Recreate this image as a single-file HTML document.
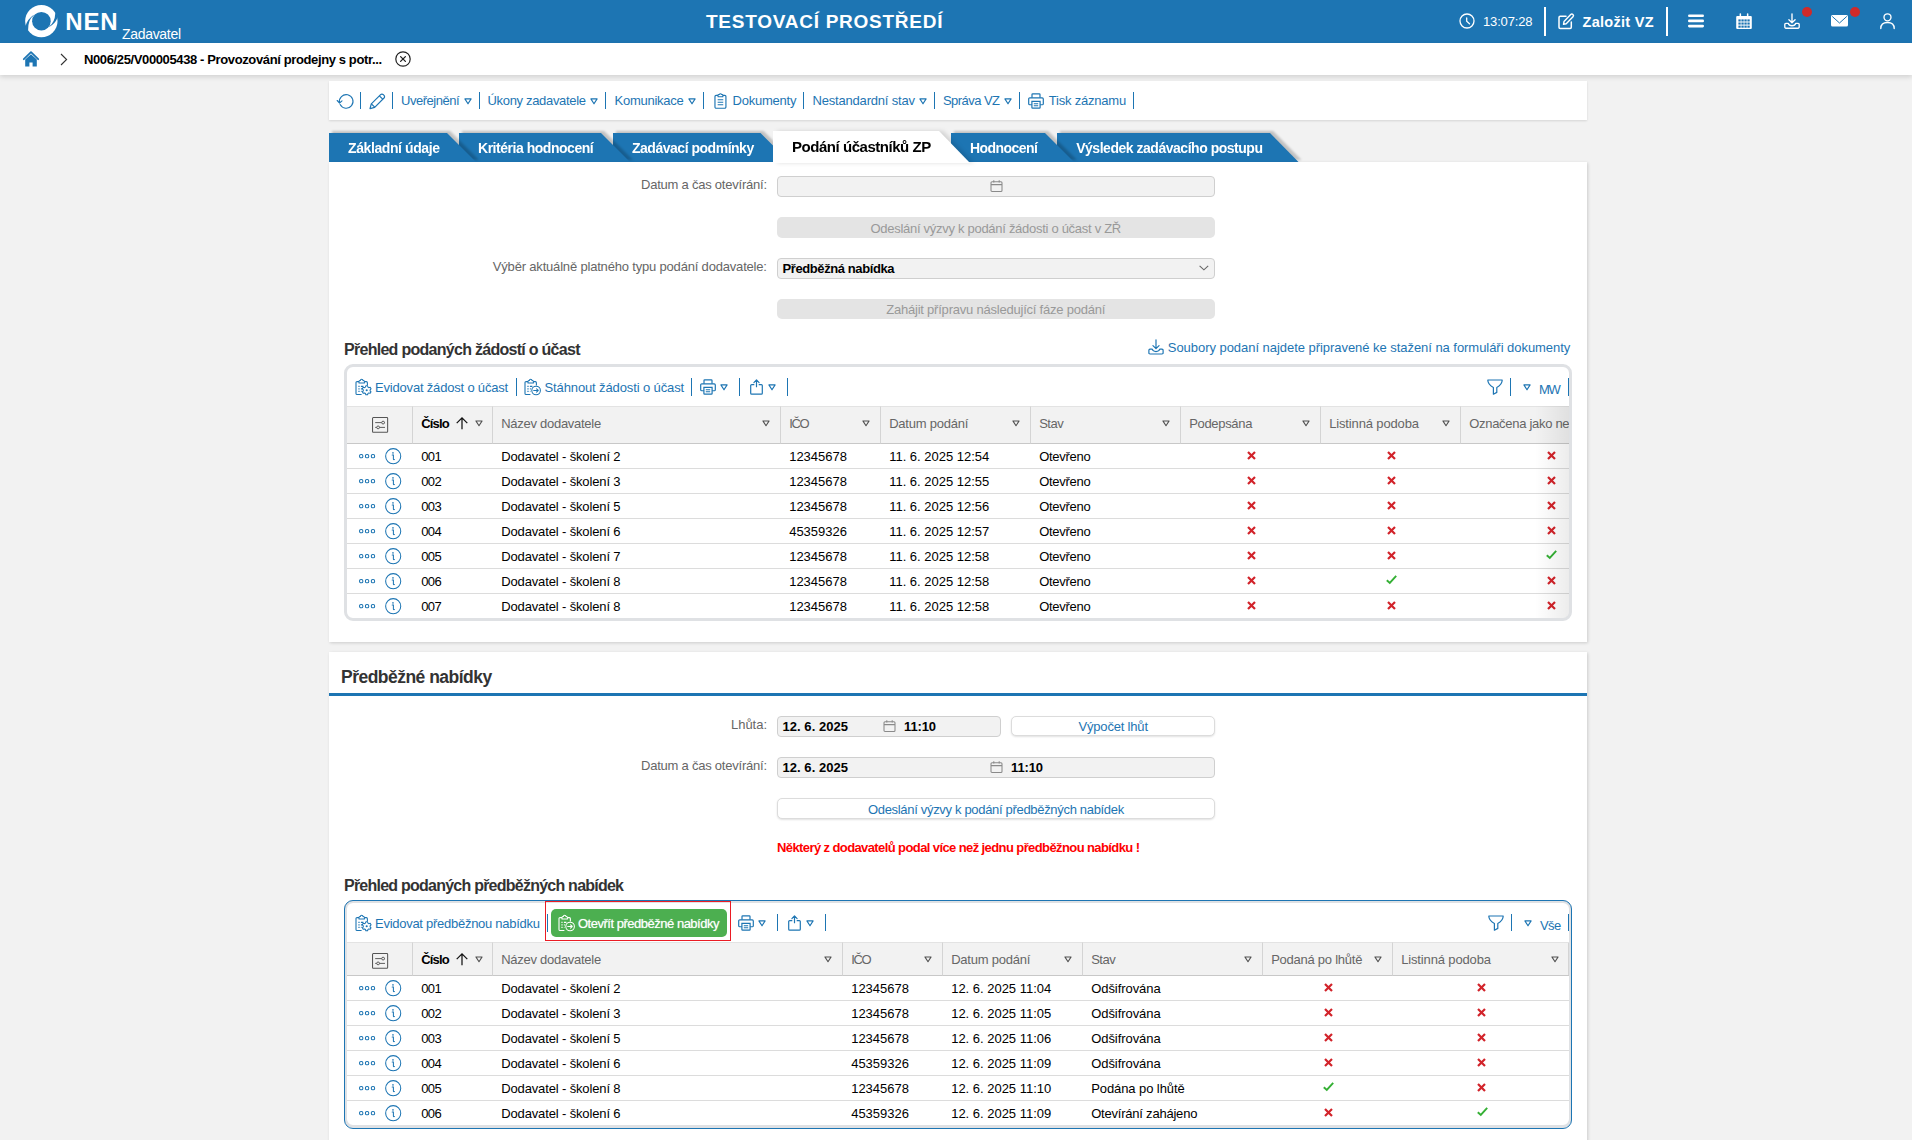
<!DOCTYPE html><html lang="cs"><head><meta charset="utf-8"><title>NEN - Zadavatel</title><style>
*{box-sizing:border-box;margin:0;padding:0}
html,body{width:1912px;height:1140px;overflow:hidden}
body{background:#f2f2f2;font-family:"Liberation Sans",sans-serif;font-size:13px;color:#000;position:relative}
.abs{position:absolute;white-space:nowrap}
svg.ic{display:block;overflow:visible}
.top{position:absolute;left:0;top:0;width:1912px;height:43px;background:#1d75b3;color:#fff}
.crumbs{position:absolute;left:0;top:43px;width:1912px;height:32px;background:#fff;box-shadow:0 2px 5px rgba(0,0,0,.14)}
.tb{position:absolute;left:329px;top:81px;width:1258px;height:39px;background:#fff;box-shadow:0 1px 2px rgba(0,0,0,.12);color:#1d75b3}
.vsep{position:absolute;width:1px;background:#1d75b3}
.tx{position:absolute;white-space:nowrap;line-height:16px;height:16px}
.panel{position:absolute;left:329px;width:1258px;background:#fff;box-shadow:1px 1px 3px rgba(0,0,0,.16)}
.tabw{position:absolute;filter:drop-shadow(3px -2px 1px rgba(0,0,0,.2))}
.tabw.aw{filter:drop-shadow(4px 0 2px rgba(0,0,0,.13))}
.tab{background:#1d75b3;color:#fff;font-weight:700;font-size:14px;height:100%;width:100%;position:relative}
.tab.act{background:#fff;color:#000;font-size:15px}
.tab span{position:absolute;white-space:nowrap;line-height:16px}
.lbl{position:absolute;color:#666;text-align:right;white-space:nowrap;line-height:16px}
.fld{position:absolute;background:#f2f2f2;border:1px solid #cfcfcf;border-radius:4px;height:21px}
.fld b,.fld .v{position:absolute;white-space:nowrap;line-height:16px;font-weight:700}
.btn{position:absolute;border-radius:5px;height:20px;text-align:center;white-space:nowrap;line-height:16px}
.btn.dis{background:#e4e4e4;color:#999}
.btn.wh{background:#fff;color:#1d75b3;border:1px solid #dcdcdc;box-shadow:0 1px 2px rgba(0,0,0,.12)}
.btn span{position:absolute;white-space:nowrap}
h2,h3{position:absolute;white-space:nowrap;font-weight:700;color:#333}
.grid{position:absolute;left:15px;width:1228px;border:3px solid #dfe1e4;border-radius:9px;background:#fff;overflow:hidden}
.grid.foc{border-color:#dfe1e4;box-shadow:0 0 0 0 #000}
.gtb{position:relative;height:39px;color:#1d75b3}
table{border-collapse:separate;border-spacing:0;table-layout:fixed;width:1222px}
th{background:#f2f2f2;border-top:1px solid #e3e3e3;border-bottom:1px solid #c8c8c8;border-left:1px solid #d4d4d4;font-weight:400;color:#666;text-align:left;position:relative;padding:0;white-space:nowrap;overflow:hidden;vertical-align:top}
th:first-child{border-left:0}
.foc th:last-child{box-shadow:inset -1px 0 0 #d4d4d4}
th .h{position:absolute;left:8.2px;top:9px;line-height:16px}
th .h.b{font-weight:700;color:#000}
td{height:25px;border-bottom:1px solid #dcdcdc;padding:2px 0 0 9.2px;white-space:nowrap;overflow:hidden;line-height:22px;vertical-align:top;position:relative}
tr:last-child td{border-bottom:0;height:24px}
td.c{text-align:center;padding:0}
td.a{padding:0}
.rshadow{position:absolute;right:0;top:39px;bottom:0;width:34px;background:linear-gradient(to right,rgba(0,0,0,0),rgba(0,0,0,.075));pointer-events:none}
</style></head><body><header class="top"><div class="abs" style="left:24.6px;top:4.8px;"><svg class="ic" width="32.7" height="32.2" viewBox="0 0 32.7 32.2"><circle cx="16.35" cy="16.1" r="16.2" fill="#fff"/><circle cx="16.4" cy="16.2" r="9.3" fill="#1d75b3"/><path d="M.6 21.1Q2.2 14.5 8.5 10.1L8.7 10.5Q3.1 14.3 3.1 24.9L-1 26Z" fill="#1d75b3"/><path d="M32.3 13.3Q30.3 18.5 24.2 22.1L24 21.7Q29.9 17.5 30.3 8.3L34 7Z" fill="#1d75b3"/></svg></div><div class="abs" style="left:65.2px;top:9.8px;font-size:24px;font-weight:700;line-height:24px;"><span style="letter-spacing:0.914px;">NEN</span></div><div class="abs" style="left:122px;top:26px;font-size:14px;line-height:16px;"><span style="letter-spacing:-0.311px;">Zadavatel</span></div><div class="abs" style="left:706px;top:11.7px;font-size:19px;font-weight:700;line-height:20px;"><span style="letter-spacing:0.744px;">TESTOVACÍ PROSTŘEDÍ</span></div><div class="abs" style="left:1458.6px;top:13px;"><svg class="ic" width="16" height="16" viewBox="0 0 16 16"><circle cx="8" cy="8" r="7" fill="none" stroke="#fff" stroke-width="1.3"/><path d="M7.7 5V8.2L10.5 10.7" fill="none" stroke="#fff" stroke-width="1.3" stroke-linecap="round"/></svg></div><div class="abs" style="left:1483px;top:13.8px;line-height:16px;"><span style="letter-spacing:-0.158px;">13:07:28</span></div><div class="abs" style="left:1544px;top:7px;width:2px;height:29px;background:#fff;"></div><div class="abs" style="left:1558.3px;top:12.9px;"><svg class="ic" width="17" height="17" viewBox="0 0 17 17"><path d="M8 3.2H2.2A1.2 1.2 0 0 0 1 4.4V14.3A1.2 1.2 0 0 0 2.2 15.5H12.1A1.2 1.2 0 0 0 13.3 14.3V9" fill="none" stroke="#fff" stroke-width="1.5" stroke-linecap="round"/><path d="M6 8.6L12.7 1.6A1.5 1.5 0 0 1 15 3.8L8.2 10.7L5.5 11.3Z" fill="none" stroke="#fff" stroke-width="1.4" stroke-linejoin="round"/></svg></div><div class="abs" style="left:1582.5px;top:12px;font-size:14.5px;font-weight:700;line-height:20px;"><span style="letter-spacing:0.280px;">Založit VZ</span></div><div class="abs" style="left:1666px;top:7px;width:2px;height:29px;background:#fff;"></div><div class="abs" style="left:1688px;top:14px;"><svg class="ic" width="16" height="14" viewBox="0 0 16 14"><rect x="0" y="0.4" width="16" height="2.6" rx="1.3" fill="#fff"/><rect x="0" y="5.6" width="16" height="2.6" rx="1.3" fill="#fff"/><rect x="0" y="10.8" width="16" height="2.6" rx="1.3" fill="#fff"/></svg></div><div class="abs" style="left:1736px;top:13px;"><svg class="ic" width="16" height="16" viewBox="0 0 16 16"><path d="M1.2 3H14.8A1 1 0 0 1 15.8 4V15A1 1 0 0 1 14.8 16H1.2A1 1 0 0 1 .2 15V4A1 1 0 0 1 1.2 3Z" fill="#fff"/><rect x="3.6" y="0.3" width="1.5" height="4" rx=".7" fill="#fff"/><rect x="10.9" y="0.3" width="1.5" height="4" rx=".7" fill="#fff"/><rect x="2.4" y="6.4" width="2.3" height="2.1" fill="#1d75b3"/><rect x="5.4" y="6.4" width="2.3" height="2.1" fill="#1d75b3"/><rect x="8.4" y="6.4" width="2.3" height="2.1" fill="#1d75b3"/><rect x="11.4" y="6.4" width="2.3" height="2.1" fill="#1d75b3"/><rect x="2.4" y="9.5" width="2.3" height="2.1" fill="#1d75b3"/><rect x="5.4" y="9.5" width="2.3" height="2.1" fill="#1d75b3"/><rect x="8.4" y="9.5" width="2.3" height="2.1" fill="#1d75b3"/><rect x="11.4" y="9.5" width="2.3" height="2.1" fill="#1d75b3"/><rect x="2.4" y="12.6" width="2.3" height="2.1" fill="#1d75b3"/><rect x="5.4" y="12.6" width="2.3" height="2.1" fill="#1d75b3"/><rect x="8.4" y="12.6" width="2.3" height="2.1" fill="#1d75b3"/><rect x="11.4" y="12.6" width="2.3" height="2.1" fill="#1d75b3"/><rect x="1.4" y="4.4" width="13.2" height="1.2" fill="#1d75b3" opacity=".0"/></svg></div><div class="abs" style="left:1784px;top:13px;"><svg class="ic" width="16" height="16" viewBox="0 0 16 16"><path d="M8 .8V9.6M4.9 6.7L8 9.8L11.1 6.7" fill="none" stroke="#fff" stroke-width="1.35" stroke-linecap="round" stroke-linejoin="round"/><path d="M4.2 10.3H1.9A1.1 1.1 0 0 0 .8 11.4V14.1A1.1 1.1 0 0 0 1.9 15.2H14.1A1.1 1.1 0 0 0 15.2 14.1V11.4A1.1 1.1 0 0 0 14.1 10.3H11.8C11.3 12 9.8 12.7 8 12.7S4.7 12 4.2 10.3Z" fill="none" stroke="#fff" stroke-width="1.35" stroke-linejoin="round"/></svg></div><div class="abs" style="left:1802px;top:7px;width:10px;height:10px;background:#cf2a2a;border-radius:50%;"></div><div class="abs" style="left:1831px;top:15px;"><svg class="ic" width="17" height="12" viewBox="0 0 17 12"><rect x="0" y="0" width="17" height="11.6" rx="1.6" fill="#fff"/><path d="M1.2 1.4L8.5 8L15.8 1.4" fill="none" stroke="#1d75b3" stroke-width="1"/></svg></div><div class="abs" style="left:1850px;top:7px;width:10px;height:10px;background:#cf2a2a;border-radius:50%;"></div><div class="abs" style="left:1880px;top:12.5px;"><svg class="ic" width="15" height="17" viewBox="0 0 15 17"><circle cx="7.5" cy="4.3" r="3.5" fill="none" stroke="#fff" stroke-width="1.35"/><path d="M.8 15.5C.8 11.4 3.6 9.5 7.5 9.5S14.2 11.4 14.2 15.5" fill="none" stroke="#fff" stroke-width="1.35" stroke-linecap="round"/></svg></div></header><nav class="crumbs"><div class="abs" style="left:23px;top:8px;"><svg class="ic" width="16" height="16" viewBox="0 0 16 16"><path d="M.8 8.2L8 1.2L15.2 8.2" fill="none" stroke="#1d75b3" stroke-width="1.8" stroke-linecap="round" stroke-linejoin="round"/><path d="M2.2 8.6L8 3.2L13.8 8.6V15.6H9.6V11.4H6.4V15.6H2.2Z" fill="#1d75b3"/></svg></div><div class="abs" style="left:60px;top:9.5px;"><svg class="ic" width="8" height="13" viewBox="0 0 8 13"><path d="M1 1L6.6 6.5L1 12" fill="none" stroke="#333" stroke-width="1.1"/></svg></div><div class="abs" style="left:84px;top:9px;font-weight:700;line-height:16px;"><span style="letter-spacing:-0.377px;">N006/25/V00005438 - Provozování prodejny s potr...</span></div><div class="abs" style="left:395px;top:8px;"><svg class="ic" width="16" height="16" viewBox="0 0 16 16"><circle cx="8" cy="8" r="7.2" fill="none" stroke="#222" stroke-width="1.2"/><path d="M5.6 5.6L10.4 10.4M10.4 5.6L5.6 10.4" stroke="#222" stroke-width="1.3" stroke-linecap="round"/></svg></div></nav><div class="tb"><span class="abs" style="left:8.0px;top:12px"><svg class="ic" width="17" height="16" viewBox="0 0 17 16"><path d="M2.55 9.8A6.8 6.8 0 1 1 3.15 11.5" fill="none" stroke="#1d75b3" stroke-width="1.1" stroke-linecap="round"/><path d="M.2 7.5L2.55 10L5 7.9" fill="none" stroke="#1d75b3" stroke-width="1.1" stroke-linecap="round" stroke-linejoin="round"/></svg></span><i class="vsep" style="left:31.0px;top:11px;height:17px"></i><span class="abs" style="left:39.8px;top:11.6px"><svg class="ic" width="17" height="17" viewBox="0 0 17 17"><path d="M1 15.6L2.3 10.9L11.6 1.6A1.9 1.9 0 0 1 14.3 1.6L15 2.3A1.9 1.9 0 0 1 15 5L5.7 14.3Z" fill="none" stroke="#1d75b3" stroke-width="1.2" stroke-linejoin="round"/><path d="M10.4 2.9L13.7 6.2M2.4 10.9L5.7 14.2" fill="none" stroke="#1d75b3" stroke-width="1.2"/></svg></span><i class="vsep" style="left:63.0px;top:11px;height:17px"></i><span class="tx" style="left:72.0px;top:12px"><span style="letter-spacing:-0.486px;">Uveřejnění</span></span><span class="abs" style="left:135.0px;top:16.7px"><svg class="ic tri" width="8" height="7" viewBox="0 0 8 7"><path d="M.9 .9H7.1L4 5.8Z" fill="none" stroke="#1d75b3" stroke-width="1.15" stroke-linejoin="round"/></svg></span><i class="vsep" style="left:150.0px;top:11px;height:17px"></i><span class="tx" style="left:158.5px;top:12px"><span style="letter-spacing:-0.323px;">Úkony zadavatele</span></span><span class="abs" style="left:261.0px;top:16.7px"><svg class="ic tri" width="8" height="7" viewBox="0 0 8 7"><path d="M.9 .9H7.1L4 5.8Z" fill="none" stroke="#1d75b3" stroke-width="1.15" stroke-linejoin="round"/></svg></span><i class="vsep" style="left:276.0px;top:11px;height:17px"></i><span class="tx" style="left:285.5px;top:12px"><span style="letter-spacing:-0.261px;">Komunikace</span></span><span class="abs" style="left:359.0px;top:16.7px"><svg class="ic tri" width="8" height="7" viewBox="0 0 8 7"><path d="M.9 .9H7.1L4 5.8Z" fill="none" stroke="#1d75b3" stroke-width="1.15" stroke-linejoin="round"/></svg></span><i class="vsep" style="left:374.0px;top:11px;height:17px"></i><span class="abs" style="left:384.6px;top:11.8px"><svg class="ic" width="12.9" height="16" viewBox="0 0 13.4 16.6"><path d="M4.2 2.4H2.2A1.2 1.2 0 0 0 1 3.6V14.6A1.2 1.2 0 0 0 2.2 15.8H11.2A1.2 1.2 0 0 0 12.4 14.6V3.6A1.2 1.2 0 0 0 11.2 2.4H9.2" fill="none" stroke="#1d75b3" stroke-width="1.2"/><path d="M4.2 3.9V2.3A.8.8 0 0 1 5 1.5H5.5A1.3 1.3 0 0 1 7.9 1.5H8.4A.8.8 0 0 1 9.2 2.3V3.9Z" fill="none" stroke="#1d75b3" stroke-width="1.1" stroke-linejoin="round"/><path d="M3.8 7H9.6M3.8 9.6H9.6M3.8 12.2H9.6" stroke="#1d75b3" stroke-width="1.2"/></svg></span><span class="tx" style="left:403.5px;top:12px"><span style="letter-spacing:-0.219px;">Dokumenty</span></span><i class="vsep" style="left:474.0px;top:11px;height:17px"></i><span class="tx" style="left:483.5px;top:12px"><span style="letter-spacing:-0.188px;">Nestandardní stav</span></span><span class="abs" style="left:589.8px;top:16.7px"><svg class="ic tri" width="8" height="7" viewBox="0 0 8 7"><path d="M.9 .9H7.1L4 5.8Z" fill="none" stroke="#1d75b3" stroke-width="1.15" stroke-linejoin="round"/></svg></span><i class="vsep" style="left:605.0px;top:11px;height:17px"></i><span class="tx" style="left:614.0px;top:12px"><span style="letter-spacing:-0.553px;">Správa VZ</span></span><span class="abs" style="left:674.6px;top:16.7px"><svg class="ic tri" width="8" height="7" viewBox="0 0 8 7"><path d="M.9 .9H7.1L4 5.8Z" fill="none" stroke="#1d75b3" stroke-width="1.15" stroke-linejoin="round"/></svg></span><i class="vsep" style="left:690.0px;top:11px;height:17px"></i><span class="abs" style="left:699.0px;top:12px"><svg class="ic" width="16" height="16" viewBox="0 0 16 15.7"><path d="M4 4.6V1.4A.7.7 0 0 1 4.7 .7H11.3A.7.7 0 0 1 12 1.4V4.6" fill="none" stroke="#1d75b3" stroke-width="1.2"/><path d="M3.9 11.6H1.8A1.1 1.1 0 0 1 .7 10.5V5.8A1.1 1.1 0 0 1 1.8 4.7H14.2A1.1 1.1 0 0 1 15.3 5.8V10.5A1.1 1.1 0 0 1 14.2 11.6H12.1" fill="none" stroke="#1d75b3" stroke-width="1.2"/><path d="M3.9 8.3H12.1V14.3A.7.7 0 0 1 11.4 15H4.6A.7.7 0 0 1 3.9 14.3Z" fill="none" stroke="#1d75b3" stroke-width="1.2"/><path d="M5.8 10.6H10.2M5.8 12.6H10.2" stroke="#1d75b3" stroke-width="1.1"/></svg></span><span class="tx" style="left:719.7px;top:12px"><span style="letter-spacing:-0.202px;">Tisk záznamu</span></span><i class="vsep" style="left:804.0px;top:11px;height:17px"></i></div><div class="tabs"><div class="tabw" style="left:329px;top:133px;width:147px;height:29px;z-index:6"><div class="tab" style="clip-path:polygon(0 0,118px 0,147px 29px,0 29px)"><span style="left:19px;top:6.6px"><span style="letter-spacing:-0.404px;">Základní údaje</span></span></div></div><div class="tabw" style="left:459px;top:133px;width:171px;height:29px;z-index:5"><div class="tab" style="clip-path:polygon(0 0,142px 0,171px 29px,0 29px)"><span style="left:19px;top:6.6px"><span style="letter-spacing:-0.470px;">Kritéria hodnocení</span></span></div></div><div class="tabw" style="left:613px;top:133px;width:176.5px;height:29px;z-index:4"><div class="tab" style="clip-path:polygon(0 0,147.5px 0,176.5px 29px,0 29px)"><span style="left:19px;top:6.6px"><span style="letter-spacing:-0.484px;">Zadávací podmínky</span></span></div></div><div class="tabw aw" style="left:773px;top:131px;width:197px;height:32px;z-index:9"><div class="tab act" style="clip-path:polygon(0 0,166px 0,197px 32px,0 32px)"><span style="left:19px;top:7.9px"><span style="letter-spacing:-0.463px;">Podání účastníků ZP</span></span></div></div><div class="tabw" style="left:951px;top:133px;width:123px;height:29px;z-index:3"><div class="tab" style="clip-path:polygon(0 0,94px 0,123px 29px,0 29px)"><span style="left:19px;top:6.6px"><span style="letter-spacing:-0.543px;">Hodnocení</span></span></div></div><div class="tabw" style="left:1057px;top:133px;width:241.5px;height:29px;z-index:2"><div class="tab" style="clip-path:polygon(0 0,213px 0,241.5px 29px,0 29px)"><span style="left:19.200000000000045px;top:6.6px"><span style="letter-spacing:-0.476px;">Výsledek zadávacího postupu</span></span></div></div></div><section class="panel" style="top:162px;height:480px;z-index:7"><label class="lbl" style="left:312.0px;top:15px"><span style="letter-spacing:-0.228px;">Datum a čas otevírání:</span></label><div class="fld" style="left:448px;top:14px;width:438px"><span class="abs" style="left:211.6px;top:3.3px"><svg class="ic" width="13" height="12" viewBox="0 0 12.2 12"><rect x=".6" y="1.8" width="11" height="9.6" rx="1" fill="none" stroke="#8a8a8a" stroke-width="1.05"/><path d="M.6 4.6H11.6M3.4 .3V2.6M8.8 .3V2.6" stroke="#8a8a8a" stroke-width="1.05"/></svg></span></div><div class="btn dis" style="left:448px;top:55px;width:438px;height:21px"><span style="left:93.5px;top:3.8px"><span style="letter-spacing:-0.286px;">Odeslání výzvy k podání žádosti o účast v ZŘ</span></span></div><label class="lbl" style="left:163.8px;top:97px"><span style="letter-spacing:-0.183px;">Výběr aktuálně platného typu podání dodavatele:</span></label><div class="fld" style="left:448px;top:96px;width:438px"><b style="left:4.5px;top:2px"><span style="letter-spacing:-0.405px;">Předběžná nabídka</span></b><span class="abs" style="left:421.2px;top:6.2px"><svg class="ic" width="10" height="6" viewBox="0 0 10 6"><path d="M.6 .8L4.9 4.8L9.2 .8" fill="none" stroke="#666" stroke-width="1.1"/></svg></span></div><div class="btn dis" style="left:448px;top:137px;width:438px"><span style="left:109.2px;top:2.5px"><span style="letter-spacing:-0.216px;">Zahájit přípravu následující fáze podání</span></span></div><h3 style="left:15px;top:179px;font-size:16px;line-height:18px"><span style="letter-spacing:-0.717px;">Přehled podaných žádostí o účast</span></h3><span class="abs" style="left:819px;top:177px"><svg class="ic" width="16" height="15.8" viewBox="0 0 16 16"><path d="M8 .8V9.6M4.9 6.7L8 9.8L11.1 6.7" fill="none" stroke="#1d75b3" stroke-width="1.2" stroke-linecap="round" stroke-linejoin="round"/><path d="M4.2 10.3H1.9A1.1 1.1 0 0 0 .8 11.4V14.1A1.1 1.1 0 0 0 1.9 15.2H14.1A1.1 1.1 0 0 0 15.2 14.1V11.4A1.1 1.1 0 0 0 14.1 10.3H11.8C11.3 12 9.8 12.7 8 12.7S4.7 12 4.2 10.3Z" fill="none" stroke="#1d75b3" stroke-width="1.2" stroke-linejoin="round"/></svg></span><span class="abs" style="left:838.8px;top:178px;color:#1d75b3;line-height:16px"><span style="letter-spacing:-0.044px;">Soubory podaní najdete připravené ke stažení na formuláři dokumenty</span></span><div class="grid" style="top:202px;height:257px"><div class="gtb"><span class="abs" style="left:7.7px;top:11.7px"><svg class="ic" width="16.4" height="16.4" viewBox="0 0 16.4 16.4"><path d="M4 2.6H2.1A1.1 1.1 0 0 0 1 3.7V14.4A1.1 1.1 0 0 0 2.1 15.5H6.6" fill="none" stroke="#1d75b3" stroke-width="1.1"/><path d="M9.4 2.6H11.3A1.1 1.1 0 0 1 12.4 3.7V6.4" fill="none" stroke="#1d75b3" stroke-width="1.1"/><path d="M4 4V2.4A.8.8 0 0 1 4.8 1.6H5.4A1.3 1.3 0 0 1 8 1.6H8.6A.8.8 0 0 1 9.4 2.4V4Z" fill="none" stroke="#1d75b3" stroke-width="1.05" stroke-linejoin="round"/><path d="M3.4 7.4H4.6M3.4 9.9H4.6M3.4 12.4H4.6M5.9 7.4H8.4M5.9 9.9H7M5.9 12.4H6.6" stroke="#1d75b3" stroke-width="1.1"/><g transform="translate(11.7 11.3) scale(1.06)"><circle r="1" fill="#1d75b3"/><path d="M-.8 -4.2H.8L1.2 -3A3 3 0 0 1 2 -2.5L3.3 -2.8L4.1 -1.4L3.2 -.5A3 3 0 0 1 3.2 .5L4.1 1.4L3.3 2.8L2 2.5A3 3 0 0 1 1.2 3L.8 4.2H-.8L-1.2 3A3 3 0 0 1 -2 2.5L-3.3 2.8L-4.1 1.4L-3.2 .5A3 3 0 0 1 -3.2 -.5L-4.1 -1.4L-3.3 -2.8L-2 -2.5A3 3 0 0 1 -1.2 -3Z" fill="none" stroke="#1d75b3" stroke-width="1" stroke-linejoin="round"/></g></svg></span><span class="tx" style="left:28.0px;top:12.5px;"><span style="letter-spacing:-0.187px;">Evidovat žádost o účast</span></span><i class="vsep" style="left:169.0px;top:11px;height:17.6px"></i><span class="abs" style="left:177.2px;top:11.7px"><svg class="ic" width="16.4" height="16.4" viewBox="0 0 16.4 16.4"><path d="M4 2.6H2.1A1.1 1.1 0 0 0 1 3.7V14.4A1.1 1.1 0 0 0 2.1 15.5H6.4" fill="none" stroke="#1d75b3" stroke-width="1.1"/><path d="M9.4 2.6H11.3A1.1 1.1 0 0 1 12.4 3.7V6.6" fill="none" stroke="#1d75b3" stroke-width="1.1"/><path d="M4 4V2.4A.8.8 0 0 1 4.8 1.6H5.4A1.3 1.3 0 0 1 8 1.6H8.6A.8.8 0 0 1 9.4 2.4V4Z" fill="none" stroke="#1d75b3" stroke-width="1.05" stroke-linejoin="round"/><path d="M3.4 7.4H4.6M3.4 9.9H4.6M3.4 12.4H4.6M5.9 7.4H8.4M5.9 9.9H6.8M5.9 12.4H6.4" stroke="#1d75b3" stroke-width="1.1"/><circle cx="12.1" cy="11.5" r="4.3" fill="none" stroke="#1d75b3" stroke-width="1.05"/><path d="M9.7 11.5H14.2M12.6 9.8L14.3 11.5L12.6 13.2" fill="none" stroke="#1d75b3" stroke-width="1.05" stroke-linecap="round" stroke-linejoin="round"/></svg></span><span class="tx" style="left:197.5px;top:12.5px;"><span style="letter-spacing:-0.116px;">Stáhnout žádosti o účast</span></span><i class="vsep" style="left:344.2px;top:11px;height:17.6px"></i><span class="abs" style="left:353.2px;top:12px"><svg class="ic" width="16" height="16" viewBox="0 0 16 15.7"><path d="M4 4.6V1.4A.7.7 0 0 1 4.7 .7H11.3A.7.7 0 0 1 12 1.4V4.6" fill="none" stroke="#1d75b3" stroke-width="1.2"/><path d="M3.9 11.6H1.8A1.1 1.1 0 0 1 .7 10.5V5.8A1.1 1.1 0 0 1 1.8 4.7H14.2A1.1 1.1 0 0 1 15.3 5.8V10.5A1.1 1.1 0 0 1 14.2 11.6H12.1" fill="none" stroke="#1d75b3" stroke-width="1.2"/><path d="M3.9 8.3H12.1V14.3A.7.7 0 0 1 11.4 15H4.6A.7.7 0 0 1 3.9 14.3Z" fill="none" stroke="#1d75b3" stroke-width="1.2"/><path d="M5.8 10.6H10.2M5.8 12.6H10.2" stroke="#1d75b3" stroke-width="1.1"/></svg></span><span class="abs" style="left:373.0px;top:16.8px"><svg class="ic tri" width="8" height="7" viewBox="0 0 8 7"><path d="M.9 .9H7.1L4 5.8Z" fill="none" stroke="#1d75b3" stroke-width="1.15" stroke-linejoin="round"/></svg></span><i class="vsep" style="left:392.0px;top:11px;height:17.6px"></i><span class="abs" style="left:402.5px;top:12px"><svg class="ic" width="13" height="16" viewBox="0 0 13 15.7"><path d="M4.3 5.4H1.7A1 1 0 0 0 .7 6.4V14A1 1 0 0 0 1.7 15H11.3A1 1 0 0 0 12.3 14V6.4A1 1 0 0 0 11.3 5.4H8.7" fill="none" stroke="#1d75b3" stroke-width="1.2"/><path d="M6.5 7.6V1M3.9 3.4L6.5 .8L9.1 3.4" fill="none" stroke="#1d75b3" stroke-width="1.2" stroke-linecap="round" stroke-linejoin="round"/></svg></span><span class="abs" style="left:421.0px;top:16.8px"><svg class="ic tri" width="8" height="7" viewBox="0 0 8 7"><path d="M.9 .9H7.1L4 5.8Z" fill="none" stroke="#1d75b3" stroke-width="1.15" stroke-linejoin="round"/></svg></span><i class="vsep" style="left:440.0px;top:11px;height:17.6px"></i><span class="abs" style="left:1140.3px;top:12px"><svg class="ic" width="16" height="16" viewBox="0 0 16 15.6"><path d="M.8 .8H15.2Q15.2 5.2 9.8 8.3V13.2L6.4 15V8.3Q.8 5.2 .8 .8Z" fill="none" stroke="#1d75b3" stroke-width="1.2" stroke-linejoin="round"/></svg></span><i class="vsep" style="left:1163.0px;top:11px;height:17.6px"></i><span class="abs" style="left:1176.0px;top:16.6px"><svg class="ic tri" width="8" height="7" viewBox="0 0 8 7"><path d="M.9 .9H7.1L4 5.8Z" fill="none" stroke="#1d75b3" stroke-width="1.15" stroke-linejoin="round"/></svg></span><span class="tx" style="left:1192.0px;top:15px;"><span style="letter-spacing:-1.309px;">MW</span></span><i class="vsep" style="left:1221.0px;top:11px;height:17.6px"></i></div><table style="width:1222px"><colgroup><col style="width:65px"><col style="width:80px"><col style="width:288px"><col style="width:100px"><col style="width:150px"><col style="width:150px"><col style="width:140px"><col style="width:140px"><col style="width:109px"></colgroup><thead><tr><th style="height:38px"><span class="abs" style="left:24.9px;top:9.8px"><svg class="ic" width="16.2" height="15.8" viewBox="0 0 16.2 15.8"><rect x=".55" y=".55" width="15.1" height="14.7" rx=".8" fill="none" stroke="#555" stroke-width="1.05"/><path d="M3.2 5.6H9.7M12.5 5.6H13M3.2 10.4H4.7M7.5 10.4H13" stroke="#555" stroke-width=".95"/><circle cx="11.1" cy="5.6" r="1.4" fill="none" stroke="#555" stroke-width=".95"/><circle cx="6.1" cy="10.4" r="1.4" fill="none" stroke="#555" stroke-width=".95"/></svg></span></th><th><span class="h b"><span style="letter-spacing:-0.824px;">Číslo</span></span><span class="abs" style="left:43.1px;top:9.5px"><svg class="ic" width="12" height="12.4" viewBox="0 0 12 12.4"><path d="M6 12.2V.9M.7 6.1L6 .8L11.3 6.1" fill="none" stroke="#111" stroke-width="1.25"/></svg></span><span class="abs" style="left:62px;top:12.6px"><svg class="ic tri" width="8" height="7" viewBox="0 0 8 7"><path d="M.9 .9H7.1L4 5.8Z" fill="none" stroke="#505050" stroke-width="1.05" stroke-linejoin="round"/></svg></span></th><th><span class="h"><span style="letter-spacing:-0.272px;">Název dodavatele</span></span><span class="abs" style="right:9.9px;top:12.6px"><svg class="ic tri" width="8" height="7" viewBox="0 0 8 7"><path d="M.9 .9H7.1L4 5.8Z" fill="none" stroke="#505050" stroke-width="1.05" stroke-linejoin="round"/></svg></span></th><th><span class="h"><span style="letter-spacing:-1.312px;">IČO</span></span><span class="abs" style="right:9.9px;top:12.6px"><svg class="ic tri" width="8" height="7" viewBox="0 0 8 7"><path d="M.9 .9H7.1L4 5.8Z" fill="none" stroke="#505050" stroke-width="1.05" stroke-linejoin="round"/></svg></span></th><th><span class="h"><span style="letter-spacing:-0.225px;">Datum podání</span></span><span class="abs" style="right:9.9px;top:12.6px"><svg class="ic tri" width="8" height="7" viewBox="0 0 8 7"><path d="M.9 .9H7.1L4 5.8Z" fill="none" stroke="#505050" stroke-width="1.05" stroke-linejoin="round"/></svg></span></th><th><span class="h"><span style="letter-spacing:-0.505px;">Stav</span></span><span class="abs" style="right:9.9px;top:12.6px"><svg class="ic tri" width="8" height="7" viewBox="0 0 8 7"><path d="M.9 .9H7.1L4 5.8Z" fill="none" stroke="#505050" stroke-width="1.05" stroke-linejoin="round"/></svg></span></th><th><span class="h"><span style="letter-spacing:-0.323px;">Podepsána</span></span><span class="abs" style="right:9.9px;top:12.6px"><svg class="ic tri" width="8" height="7" viewBox="0 0 8 7"><path d="M.9 .9H7.1L4 5.8Z" fill="none" stroke="#505050" stroke-width="1.05" stroke-linejoin="round"/></svg></span></th><th><span class="h"><span style="letter-spacing:-0.144px;">Listinná podoba</span></span><span class="abs" style="right:9.9px;top:12.6px"><svg class="ic tri" width="8" height="7" viewBox="0 0 8 7"><path d="M.9 .9H7.1L4 5.8Z" fill="none" stroke="#505050" stroke-width="1.05" stroke-linejoin="round"/></svg></span></th><th><span class="h"><span style="letter-spacing:-0.296px;">Označena jako neplatná</span></span></th></tr></thead><tbody><tr><td class="a"><span class="abs" style="left:11.8px;top:10.4px"><svg class="ic" width="16.2" height="4.4" viewBox="0 0 16.2 4.4"><rect x="0.5500000000000003" y=".55" width="3.3" height="3.3" rx="1.4" fill="none" stroke="#1d75b3" stroke-width="1.05"/><rect x="6.449999999999999" y=".55" width="3.3" height="3.3" rx="1.4" fill="none" stroke="#1d75b3" stroke-width="1.05"/><rect x="12.35" y=".55" width="3.3" height="3.3" rx="1.4" fill="none" stroke="#1d75b3" stroke-width="1.05"/></svg></span><span class="abs" style="left:37.8px;top:4.3px"><svg class="ic" width="16.4" height="16.4" viewBox="0 0 16.4 16.4"><circle cx="8.2" cy="8.2" r="7.55" fill="none" stroke="#1d75b3" stroke-width="1.05"/><circle cx="8" cy="4.9" r=".8" fill="#1d75b3"/><path d="M7.2 7H8.4V11C8.4 11.6 8.8 11.8 9.4 11.6" fill="none" stroke="#1d75b3" stroke-width="1.05" stroke-linecap="round"/></svg></span></td><td><span style="letter-spacing:-0.602px;">001</span></td><td><span style="letter-spacing:-0.136px;">Dodavatel - školení 2</span></td><td><span style="letter-spacing:-0.021px;">12345678</span></td><td><span style="letter-spacing:-0.016px;">11. 6. 2025 12:54</span></td><td><span style="letter-spacing:-0.283px;">Otevřeno</span></td><td class="c"><span class="abs" style="left:66.9px;top:6.6px"><svg class="ic xm" width="9" height="9" viewBox="0 0 9 9"><path d="M1 1L8 8M8 1L1 8" stroke="#d2232a" stroke-width="2.2" stroke-linecap="butt"/></svg></span></td><td class="c"><span class="abs" style="left:66.9px;top:6.6px"><svg class="ic xm" width="9" height="9" viewBox="0 0 9 9"><path d="M1 1L8 8M8 1L1 8" stroke="#d2232a" stroke-width="2.2" stroke-linecap="butt"/></svg></span></td><td class="c"><span class="abs" style="left:87.0px;top:6.6px"><svg class="ic xm" width="9" height="9" viewBox="0 0 9 9"><path d="M1 1L8 8M8 1L1 8" stroke="#d2232a" stroke-width="2.2" stroke-linecap="butt"/></svg></span></td></tr><tr><td class="a"><span class="abs" style="left:11.8px;top:10.4px"><svg class="ic" width="16.2" height="4.4" viewBox="0 0 16.2 4.4"><rect x="0.5500000000000003" y=".55" width="3.3" height="3.3" rx="1.4" fill="none" stroke="#1d75b3" stroke-width="1.05"/><rect x="6.449999999999999" y=".55" width="3.3" height="3.3" rx="1.4" fill="none" stroke="#1d75b3" stroke-width="1.05"/><rect x="12.35" y=".55" width="3.3" height="3.3" rx="1.4" fill="none" stroke="#1d75b3" stroke-width="1.05"/></svg></span><span class="abs" style="left:37.8px;top:4.3px"><svg class="ic" width="16.4" height="16.4" viewBox="0 0 16.4 16.4"><circle cx="8.2" cy="8.2" r="7.55" fill="none" stroke="#1d75b3" stroke-width="1.05"/><circle cx="8" cy="4.9" r=".8" fill="#1d75b3"/><path d="M7.2 7H8.4V11C8.4 11.6 8.8 11.8 9.4 11.6" fill="none" stroke="#1d75b3" stroke-width="1.05" stroke-linecap="round"/></svg></span></td><td><span style="letter-spacing:-0.602px;">002</span></td><td><span style="letter-spacing:-0.136px;">Dodavatel - školení 3</span></td><td><span style="letter-spacing:-0.021px;">12345678</span></td><td><span style="letter-spacing:-0.016px;">11. 6. 2025 12:55</span></td><td><span style="letter-spacing:-0.283px;">Otevřeno</span></td><td class="c"><span class="abs" style="left:66.9px;top:6.6px"><svg class="ic xm" width="9" height="9" viewBox="0 0 9 9"><path d="M1 1L8 8M8 1L1 8" stroke="#d2232a" stroke-width="2.2" stroke-linecap="butt"/></svg></span></td><td class="c"><span class="abs" style="left:66.9px;top:6.6px"><svg class="ic xm" width="9" height="9" viewBox="0 0 9 9"><path d="M1 1L8 8M8 1L1 8" stroke="#d2232a" stroke-width="2.2" stroke-linecap="butt"/></svg></span></td><td class="c"><span class="abs" style="left:87.0px;top:6.6px"><svg class="ic xm" width="9" height="9" viewBox="0 0 9 9"><path d="M1 1L8 8M8 1L1 8" stroke="#d2232a" stroke-width="2.2" stroke-linecap="butt"/></svg></span></td></tr><tr><td class="a"><span class="abs" style="left:11.8px;top:10.4px"><svg class="ic" width="16.2" height="4.4" viewBox="0 0 16.2 4.4"><rect x="0.5500000000000003" y=".55" width="3.3" height="3.3" rx="1.4" fill="none" stroke="#1d75b3" stroke-width="1.05"/><rect x="6.449999999999999" y=".55" width="3.3" height="3.3" rx="1.4" fill="none" stroke="#1d75b3" stroke-width="1.05"/><rect x="12.35" y=".55" width="3.3" height="3.3" rx="1.4" fill="none" stroke="#1d75b3" stroke-width="1.05"/></svg></span><span class="abs" style="left:37.8px;top:4.3px"><svg class="ic" width="16.4" height="16.4" viewBox="0 0 16.4 16.4"><circle cx="8.2" cy="8.2" r="7.55" fill="none" stroke="#1d75b3" stroke-width="1.05"/><circle cx="8" cy="4.9" r=".8" fill="#1d75b3"/><path d="M7.2 7H8.4V11C8.4 11.6 8.8 11.8 9.4 11.6" fill="none" stroke="#1d75b3" stroke-width="1.05" stroke-linecap="round"/></svg></span></td><td><span style="letter-spacing:-0.602px;">003</span></td><td><span style="letter-spacing:-0.136px;">Dodavatel - školení 5</span></td><td><span style="letter-spacing:-0.021px;">12345678</span></td><td><span style="letter-spacing:-0.016px;">11. 6. 2025 12:56</span></td><td><span style="letter-spacing:-0.283px;">Otevřeno</span></td><td class="c"><span class="abs" style="left:66.9px;top:6.6px"><svg class="ic xm" width="9" height="9" viewBox="0 0 9 9"><path d="M1 1L8 8M8 1L1 8" stroke="#d2232a" stroke-width="2.2" stroke-linecap="butt"/></svg></span></td><td class="c"><span class="abs" style="left:66.9px;top:6.6px"><svg class="ic xm" width="9" height="9" viewBox="0 0 9 9"><path d="M1 1L8 8M8 1L1 8" stroke="#d2232a" stroke-width="2.2" stroke-linecap="butt"/></svg></span></td><td class="c"><span class="abs" style="left:87.0px;top:6.6px"><svg class="ic xm" width="9" height="9" viewBox="0 0 9 9"><path d="M1 1L8 8M8 1L1 8" stroke="#d2232a" stroke-width="2.2" stroke-linecap="butt"/></svg></span></td></tr><tr><td class="a"><span class="abs" style="left:11.8px;top:10.4px"><svg class="ic" width="16.2" height="4.4" viewBox="0 0 16.2 4.4"><rect x="0.5500000000000003" y=".55" width="3.3" height="3.3" rx="1.4" fill="none" stroke="#1d75b3" stroke-width="1.05"/><rect x="6.449999999999999" y=".55" width="3.3" height="3.3" rx="1.4" fill="none" stroke="#1d75b3" stroke-width="1.05"/><rect x="12.35" y=".55" width="3.3" height="3.3" rx="1.4" fill="none" stroke="#1d75b3" stroke-width="1.05"/></svg></span><span class="abs" style="left:37.8px;top:4.3px"><svg class="ic" width="16.4" height="16.4" viewBox="0 0 16.4 16.4"><circle cx="8.2" cy="8.2" r="7.55" fill="none" stroke="#1d75b3" stroke-width="1.05"/><circle cx="8" cy="4.9" r=".8" fill="#1d75b3"/><path d="M7.2 7H8.4V11C8.4 11.6 8.8 11.8 9.4 11.6" fill="none" stroke="#1d75b3" stroke-width="1.05" stroke-linecap="round"/></svg></span></td><td><span style="letter-spacing:-0.602px;">004</span></td><td><span style="letter-spacing:-0.136px;">Dodavatel - školení 6</span></td><td><span style="letter-spacing:-0.021px;">45359326</span></td><td><span style="letter-spacing:-0.016px;">11. 6. 2025 12:57</span></td><td><span style="letter-spacing:-0.283px;">Otevřeno</span></td><td class="c"><span class="abs" style="left:66.9px;top:6.6px"><svg class="ic xm" width="9" height="9" viewBox="0 0 9 9"><path d="M1 1L8 8M8 1L1 8" stroke="#d2232a" stroke-width="2.2" stroke-linecap="butt"/></svg></span></td><td class="c"><span class="abs" style="left:66.9px;top:6.6px"><svg class="ic xm" width="9" height="9" viewBox="0 0 9 9"><path d="M1 1L8 8M8 1L1 8" stroke="#d2232a" stroke-width="2.2" stroke-linecap="butt"/></svg></span></td><td class="c"><span class="abs" style="left:87.0px;top:6.6px"><svg class="ic xm" width="9" height="9" viewBox="0 0 9 9"><path d="M1 1L8 8M8 1L1 8" stroke="#d2232a" stroke-width="2.2" stroke-linecap="butt"/></svg></span></td></tr><tr><td class="a"><span class="abs" style="left:11.8px;top:10.4px"><svg class="ic" width="16.2" height="4.4" viewBox="0 0 16.2 4.4"><rect x="0.5500000000000003" y=".55" width="3.3" height="3.3" rx="1.4" fill="none" stroke="#1d75b3" stroke-width="1.05"/><rect x="6.449999999999999" y=".55" width="3.3" height="3.3" rx="1.4" fill="none" stroke="#1d75b3" stroke-width="1.05"/><rect x="12.35" y=".55" width="3.3" height="3.3" rx="1.4" fill="none" stroke="#1d75b3" stroke-width="1.05"/></svg></span><span class="abs" style="left:37.8px;top:4.3px"><svg class="ic" width="16.4" height="16.4" viewBox="0 0 16.4 16.4"><circle cx="8.2" cy="8.2" r="7.55" fill="none" stroke="#1d75b3" stroke-width="1.05"/><circle cx="8" cy="4.9" r=".8" fill="#1d75b3"/><path d="M7.2 7H8.4V11C8.4 11.6 8.8 11.8 9.4 11.6" fill="none" stroke="#1d75b3" stroke-width="1.05" stroke-linecap="round"/></svg></span></td><td><span style="letter-spacing:-0.602px;">005</span></td><td><span style="letter-spacing:-0.136px;">Dodavatel - školení 7</span></td><td><span style="letter-spacing:-0.021px;">12345678</span></td><td><span style="letter-spacing:-0.016px;">11. 6. 2025 12:58</span></td><td><span style="letter-spacing:-0.283px;">Otevřeno</span></td><td class="c"><span class="abs" style="left:66.9px;top:6.6px"><svg class="ic xm" width="9" height="9" viewBox="0 0 9 9"><path d="M1 1L8 8M8 1L1 8" stroke="#d2232a" stroke-width="2.2" stroke-linecap="butt"/></svg></span></td><td class="c"><span class="abs" style="left:66.9px;top:6.6px"><svg class="ic xm" width="9" height="9" viewBox="0 0 9 9"><path d="M1 1L8 8M8 1L1 8" stroke="#d2232a" stroke-width="2.2" stroke-linecap="butt"/></svg></span></td><td class="c"><span class="abs" style="left:86.2px;top:6.3px"><svg class="ic ck" width="11" height="9" viewBox="0 0 11 9"><path d="M.8 5.2L3.8 8L10.2 .9" fill="none" stroke="#35b035" stroke-width="1.9"/></svg></span></td></tr><tr><td class="a"><span class="abs" style="left:11.8px;top:10.4px"><svg class="ic" width="16.2" height="4.4" viewBox="0 0 16.2 4.4"><rect x="0.5500000000000003" y=".55" width="3.3" height="3.3" rx="1.4" fill="none" stroke="#1d75b3" stroke-width="1.05"/><rect x="6.449999999999999" y=".55" width="3.3" height="3.3" rx="1.4" fill="none" stroke="#1d75b3" stroke-width="1.05"/><rect x="12.35" y=".55" width="3.3" height="3.3" rx="1.4" fill="none" stroke="#1d75b3" stroke-width="1.05"/></svg></span><span class="abs" style="left:37.8px;top:4.3px"><svg class="ic" width="16.4" height="16.4" viewBox="0 0 16.4 16.4"><circle cx="8.2" cy="8.2" r="7.55" fill="none" stroke="#1d75b3" stroke-width="1.05"/><circle cx="8" cy="4.9" r=".8" fill="#1d75b3"/><path d="M7.2 7H8.4V11C8.4 11.6 8.8 11.8 9.4 11.6" fill="none" stroke="#1d75b3" stroke-width="1.05" stroke-linecap="round"/></svg></span></td><td><span style="letter-spacing:-0.602px;">006</span></td><td><span style="letter-spacing:-0.136px;">Dodavatel - školení 8</span></td><td><span style="letter-spacing:-0.021px;">12345678</span></td><td><span style="letter-spacing:-0.016px;">11. 6. 2025 12:58</span></td><td><span style="letter-spacing:-0.283px;">Otevřeno</span></td><td class="c"><span class="abs" style="left:66.9px;top:6.6px"><svg class="ic xm" width="9" height="9" viewBox="0 0 9 9"><path d="M1 1L8 8M8 1L1 8" stroke="#d2232a" stroke-width="2.2" stroke-linecap="butt"/></svg></span></td><td class="c"><span class="abs" style="left:66.1px;top:6.3px"><svg class="ic ck" width="11" height="9" viewBox="0 0 11 9"><path d="M.8 5.2L3.8 8L10.2 .9" fill="none" stroke="#35b035" stroke-width="1.9"/></svg></span></td><td class="c"><span class="abs" style="left:87.0px;top:6.6px"><svg class="ic xm" width="9" height="9" viewBox="0 0 9 9"><path d="M1 1L8 8M8 1L1 8" stroke="#d2232a" stroke-width="2.2" stroke-linecap="butt"/></svg></span></td></tr><tr><td class="a"><span class="abs" style="left:11.8px;top:10.4px"><svg class="ic" width="16.2" height="4.4" viewBox="0 0 16.2 4.4"><rect x="0.5500000000000003" y=".55" width="3.3" height="3.3" rx="1.4" fill="none" stroke="#1d75b3" stroke-width="1.05"/><rect x="6.449999999999999" y=".55" width="3.3" height="3.3" rx="1.4" fill="none" stroke="#1d75b3" stroke-width="1.05"/><rect x="12.35" y=".55" width="3.3" height="3.3" rx="1.4" fill="none" stroke="#1d75b3" stroke-width="1.05"/></svg></span><span class="abs" style="left:37.8px;top:4.3px"><svg class="ic" width="16.4" height="16.4" viewBox="0 0 16.4 16.4"><circle cx="8.2" cy="8.2" r="7.55" fill="none" stroke="#1d75b3" stroke-width="1.05"/><circle cx="8" cy="4.9" r=".8" fill="#1d75b3"/><path d="M7.2 7H8.4V11C8.4 11.6 8.8 11.8 9.4 11.6" fill="none" stroke="#1d75b3" stroke-width="1.05" stroke-linecap="round"/></svg></span></td><td><span style="letter-spacing:-0.602px;">007</span></td><td><span style="letter-spacing:-0.136px;">Dodavatel - školení 8</span></td><td><span style="letter-spacing:-0.021px;">12345678</span></td><td><span style="letter-spacing:-0.016px;">11. 6. 2025 12:58</span></td><td><span style="letter-spacing:-0.283px;">Otevřeno</span></td><td class="c"><span class="abs" style="left:66.9px;top:6.6px"><svg class="ic xm" width="9" height="9" viewBox="0 0 9 9"><path d="M1 1L8 8M8 1L1 8" stroke="#d2232a" stroke-width="2.2" stroke-linecap="butt"/></svg></span></td><td class="c"><span class="abs" style="left:66.9px;top:6.6px"><svg class="ic xm" width="9" height="9" viewBox="0 0 9 9"><path d="M1 1L8 8M8 1L1 8" stroke="#d2232a" stroke-width="2.2" stroke-linecap="butt"/></svg></span></td><td class="c"><span class="abs" style="left:87.0px;top:6.6px"><svg class="ic xm" width="9" height="9" viewBox="0 0 9 9"><path d="M1 1L8 8M8 1L1 8" stroke="#d2232a" stroke-width="2.2" stroke-linecap="butt"/></svg></span></td></tr></tbody></table><div class="rshadow"></div></div></section><section class="panel" style="top:652px;height:500px"><h2 style="left:12px;top:14.799999999999955px;font-size:17.5px;line-height:20px"><span style="letter-spacing:-0.519px;">Předběžné nabídky</span></h2><div class="abs" style="left:0;top:41px;width:1258px;height:3px;background:#1d75b3"></div><label class="lbl" style="left:402.0px;top:64.5px"><span style="letter-spacing:-0.031px;">Lhůta:</span></label><div class="fld" style="left:448px;top:64px;width:224px"><b style="left:4.5px;top:2px"><span style="letter-spacing:0.044px;">12. 6. 2025</span></b><span class="abs" style="left:104.6px;top:3.3px"><svg class="ic" width="13" height="12" viewBox="0 0 12.2 12"><rect x=".6" y="1.8" width="11" height="9.6" rx="1" fill="none" stroke="#8a8a8a" stroke-width="1.05"/><path d="M.6 4.6H11.6M3.4 .3V2.6M8.8 .3V2.6" stroke="#8a8a8a" stroke-width="1.05"/></svg></span><b style="left:126px;top:2px"><span style="letter-spacing:-0.137px;">11:10</span></b></div><div class="btn wh" style="left:682px;top:64px;width:204px;height:20px"><span style="left:66.5px;top:2px"><span style="letter-spacing:-0.186px;">Výpočet lhůt</span></span></div><label class="lbl" style="left:312.0px;top:105.70000000000005px"><span style="letter-spacing:-0.228px;">Datum a čas otevírání:</span></label><div class="fld" style="left:448px;top:105px;width:438px"><b style="left:4.5px;top:2px"><span style="letter-spacing:0.044px;">12. 6. 2025</span></b><span class="abs" style="left:211.6px;top:3.3px"><svg class="ic" width="13" height="12" viewBox="0 0 12.2 12"><rect x=".6" y="1.8" width="11" height="9.6" rx="1" fill="none" stroke="#8a8a8a" stroke-width="1.05"/><path d="M.6 4.6H11.6M3.4 .3V2.6M8.8 .3V2.6" stroke="#8a8a8a" stroke-width="1.05"/></svg></span><b style="left:233px;top:2px"><span style="letter-spacing:-0.137px;">11:10</span></b></div><div class="btn wh" style="left:448px;top:146px;width:438px;height:21px"><span style="left:90px;top:2.5px"><span style="letter-spacing:-0.318px;">Odeslání výzvy k podání předběžných nabídek</span></span></div><div class="abs" style="left:448px;top:187.5px;color:#f00;font-weight:700;line-height:16px"><span style="letter-spacing:-0.598px;">Některý z dodavatelů podal více než jednu předběžnou nabídku !</span></div><h3 style="left:15px;top:224.5px;font-size:16px;line-height:18px"><span style="letter-spacing:-0.764px;">Přehled podaných předběžných nabídek</span></h3><div class="grid foc" style="top:248px;height:228px;border-color:#dfe1e4;box-shadow:inset 0 0 0 0 #fff;outline:0"><div class="gtb"><span class="abs" style="left:7.7px;top:11.7px"><svg class="ic" width="16.4" height="16.4" viewBox="0 0 16.4 16.4"><path d="M4 2.6H2.1A1.1 1.1 0 0 0 1 3.7V14.4A1.1 1.1 0 0 0 2.1 15.5H6.6" fill="none" stroke="#1d75b3" stroke-width="1.1"/><path d="M9.4 2.6H11.3A1.1 1.1 0 0 1 12.4 3.7V6.4" fill="none" stroke="#1d75b3" stroke-width="1.1"/><path d="M4 4V2.4A.8.8 0 0 1 4.8 1.6H5.4A1.3 1.3 0 0 1 8 1.6H8.6A.8.8 0 0 1 9.4 2.4V4Z" fill="none" stroke="#1d75b3" stroke-width="1.05" stroke-linejoin="round"/><path d="M3.4 7.4H4.6M3.4 9.9H4.6M3.4 12.4H4.6M5.9 7.4H8.4M5.9 9.9H7M5.9 12.4H6.6" stroke="#1d75b3" stroke-width="1.1"/><g transform="translate(11.7 11.3) scale(1.06)"><circle r="1" fill="#1d75b3"/><path d="M-.8 -4.2H.8L1.2 -3A3 3 0 0 1 2 -2.5L3.3 -2.8L4.1 -1.4L3.2 -.5A3 3 0 0 1 3.2 .5L4.1 1.4L3.3 2.8L2 2.5A3 3 0 0 1 1.2 3L.8 4.2H-.8L-1.2 3A3 3 0 0 1 -2 2.5L-3.3 2.8L-4.1 1.4L-3.2 .5A3 3 0 0 1 -3.2 -.5L-4.1 -1.4L-3.3 -2.8L-2 -2.5A3 3 0 0 1 -1.2 -3Z" fill="none" stroke="#1d75b3" stroke-width="1" stroke-linejoin="round"/></g></svg></span><span class="tx" style="left:28.0px;top:12.8px;"><span style="letter-spacing:-0.270px;">Evidovat předběžnou nabídku</span></span><i class="vsep" style="left:200.0px;top:11px;height:17.8px"></i><div class="abs" style="left:204px;top:6px;width:176px;height:27.5px;background:#4caf50;border-radius:5px;color:#fff"><span class="abs" style="left:7px;top:5.7px"><svg class="ic" width="16.4" height="16.4" viewBox="0 0 16.4 16.4"><path d="M4 2.6H2.1A1.1 1.1 0 0 0 1 3.7V14.4A1.1 1.1 0 0 0 2.1 15.5H6.4" fill="none" stroke="#fff" stroke-width="1.1"/><path d="M9.4 2.6H11.3A1.1 1.1 0 0 1 12.4 3.7V6.6" fill="none" stroke="#fff" stroke-width="1.1"/><path d="M4 4V2.4A.8.8 0 0 1 4.8 1.6H5.4A1.3 1.3 0 0 1 8 1.6H8.6A.8.8 0 0 1 9.4 2.4V4Z" fill="none" stroke="#fff" stroke-width="1.05" stroke-linejoin="round"/><path d="M3.4 7.4H4.6M3.4 9.9H4.6M3.4 12.4H4.6M5.9 7.4H8.4M5.9 9.9H6.8M5.9 12.4H6.4" stroke="#fff" stroke-width="1.1"/><circle cx="12.1" cy="11.5" r="4.3" fill="none" stroke="#fff" stroke-width="1.05"/><path d="M9.7 11.5H14.2M12.6 9.8L14.3 11.5L12.6 13.2" fill="none" stroke="#fff" stroke-width="1.05" stroke-linecap="round" stroke-linejoin="round"/></svg></span><span class="tx" style="left:27px;top:6.5px;text-shadow:0 0 1px rgba(255,255,255,.6)"><span style="letter-spacing:-0.488px;">Otevřít předběžné nabídky</span></span></div><span class="abs" style="left:391.2px;top:12px"><svg class="ic" width="16" height="16" viewBox="0 0 16 15.7"><path d="M4 4.6V1.4A.7.7 0 0 1 4.7 .7H11.3A.7.7 0 0 1 12 1.4V4.6" fill="none" stroke="#1d75b3" stroke-width="1.2"/><path d="M3.9 11.6H1.8A1.1 1.1 0 0 1 .7 10.5V5.8A1.1 1.1 0 0 1 1.8 4.7H14.2A1.1 1.1 0 0 1 15.3 5.8V10.5A1.1 1.1 0 0 1 14.2 11.6H12.1" fill="none" stroke="#1d75b3" stroke-width="1.2"/><path d="M3.9 8.3H12.1V14.3A.7.7 0 0 1 11.4 15H4.6A.7.7 0 0 1 3.9 14.3Z" fill="none" stroke="#1d75b3" stroke-width="1.2"/><path d="M5.8 10.6H10.2M5.8 12.6H10.2" stroke="#1d75b3" stroke-width="1.1"/></svg></span><span class="abs" style="left:410.6px;top:16.7px"><svg class="ic tri" width="8" height="7" viewBox="0 0 8 7"><path d="M.9 .9H7.1L4 5.8Z" fill="none" stroke="#1d75b3" stroke-width="1.15" stroke-linejoin="round"/></svg></span><i class="vsep" style="left:430.0px;top:11.3px;height:17px"></i><span class="abs" style="left:441.0px;top:12px"><svg class="ic" width="13" height="16" viewBox="0 0 13 15.7"><path d="M4.3 5.4H1.7A1 1 0 0 0 .7 6.4V14A1 1 0 0 0 1.7 15H11.3A1 1 0 0 0 12.3 14V6.4A1 1 0 0 0 11.3 5.4H8.7" fill="none" stroke="#1d75b3" stroke-width="1.2"/><path d="M6.5 7.6V1M3.9 3.4L6.5 .8L9.1 3.4" fill="none" stroke="#1d75b3" stroke-width="1.2" stroke-linecap="round" stroke-linejoin="round"/></svg></span><span class="abs" style="left:458.7px;top:16.7px"><svg class="ic tri" width="8" height="7" viewBox="0 0 8 7"><path d="M.9 .9H7.1L4 5.8Z" fill="none" stroke="#1d75b3" stroke-width="1.15" stroke-linejoin="round"/></svg></span><i class="vsep" style="left:478.0px;top:11.3px;height:17px"></i><span class="abs" style="left:1141.0px;top:12px"><svg class="ic" width="16" height="16" viewBox="0 0 16 15.6"><path d="M.8 .8H15.2Q15.2 5.2 9.8 8.3V13.2L6.4 15V8.3Q.8 5.2 .8 .8Z" fill="none" stroke="#1d75b3" stroke-width="1.2" stroke-linejoin="round"/></svg></span><i class="vsep" style="left:1164.0px;top:11.3px;height:17px"></i><span class="abs" style="left:1177.2px;top:16.9px"><svg class="ic tri" width="8" height="7" viewBox="0 0 8 7"><path d="M.9 .9H7.1L4 5.8Z" fill="none" stroke="#1d75b3" stroke-width="1.15" stroke-linejoin="round"/></svg></span><span class="tx" style="left:1193.0px;top:14.6px;"><span style="letter-spacing:-0.603px;">Vše</span></span><i class="vsep" style="left:1221.0px;top:11.3px;height:17px"></i></div><table style="width:1222px"><colgroup><col style="width:65px"><col style="width:80px"><col style="width:350px"><col style="width:100px"><col style="width:140px"><col style="width:180px"><col style="width:130px"><col style="width:177px"></colgroup><thead><tr><th style="height:34px"><span class="abs" style="left:24.9px;top:9.8px"><svg class="ic" width="16.2" height="15.8" viewBox="0 0 16.2 15.8"><rect x=".55" y=".55" width="15.1" height="14.7" rx=".8" fill="none" stroke="#555" stroke-width="1.05"/><path d="M3.2 5.6H9.7M12.5 5.6H13M3.2 10.4H4.7M7.5 10.4H13" stroke="#555" stroke-width=".95"/><circle cx="11.1" cy="5.6" r="1.4" fill="none" stroke="#555" stroke-width=".95"/><circle cx="6.1" cy="10.4" r="1.4" fill="none" stroke="#555" stroke-width=".95"/></svg></span></th><th><span class="h b"><span style="letter-spacing:-0.824px;">Číslo</span></span><span class="abs" style="left:43.1px;top:9.5px"><svg class="ic" width="12" height="12.4" viewBox="0 0 12 12.4"><path d="M6 12.2V.9M.7 6.1L6 .8L11.3 6.1" fill="none" stroke="#111" stroke-width="1.25"/></svg></span><span class="abs" style="left:62px;top:12.6px"><svg class="ic tri" width="8" height="7" viewBox="0 0 8 7"><path d="M.9 .9H7.1L4 5.8Z" fill="none" stroke="#505050" stroke-width="1.05" stroke-linejoin="round"/></svg></span></th><th><span class="h"><span style="letter-spacing:-0.272px;">Název dodavatele</span></span><span class="abs" style="right:9.9px;top:12.6px"><svg class="ic tri" width="8" height="7" viewBox="0 0 8 7"><path d="M.9 .9H7.1L4 5.8Z" fill="none" stroke="#505050" stroke-width="1.05" stroke-linejoin="round"/></svg></span></th><th><span class="h"><span style="letter-spacing:-1.312px;">IČO</span></span><span class="abs" style="right:9.9px;top:12.6px"><svg class="ic tri" width="8" height="7" viewBox="0 0 8 7"><path d="M.9 .9H7.1L4 5.8Z" fill="none" stroke="#505050" stroke-width="1.05" stroke-linejoin="round"/></svg></span></th><th><span class="h"><span style="letter-spacing:-0.225px;">Datum podání</span></span><span class="abs" style="right:9.9px;top:12.6px"><svg class="ic tri" width="8" height="7" viewBox="0 0 8 7"><path d="M.9 .9H7.1L4 5.8Z" fill="none" stroke="#505050" stroke-width="1.05" stroke-linejoin="round"/></svg></span></th><th><span class="h"><span style="letter-spacing:-0.505px;">Stav</span></span><span class="abs" style="right:9.9px;top:12.6px"><svg class="ic tri" width="8" height="7" viewBox="0 0 8 7"><path d="M.9 .9H7.1L4 5.8Z" fill="none" stroke="#505050" stroke-width="1.05" stroke-linejoin="round"/></svg></span></th><th><span class="h"><span style="letter-spacing:-0.250px;">Podaná po lhůtě</span></span><span class="abs" style="right:9.9px;top:12.6px"><svg class="ic tri" width="8" height="7" viewBox="0 0 8 7"><path d="M.9 .9H7.1L4 5.8Z" fill="none" stroke="#505050" stroke-width="1.05" stroke-linejoin="round"/></svg></span></th><th><span class="h"><span style="letter-spacing:-0.144px;">Listinná podoba</span></span><span class="abs" style="right:9.9px;top:12.6px"><svg class="ic tri" width="8" height="7" viewBox="0 0 8 7"><path d="M.9 .9H7.1L4 5.8Z" fill="none" stroke="#505050" stroke-width="1.05" stroke-linejoin="round"/></svg></span></th></tr></thead><tbody><tr><td class="a"><span class="abs" style="left:11.8px;top:10.4px"><svg class="ic" width="16.2" height="4.4" viewBox="0 0 16.2 4.4"><rect x="0.5500000000000003" y=".55" width="3.3" height="3.3" rx="1.4" fill="none" stroke="#1d75b3" stroke-width="1.05"/><rect x="6.449999999999999" y=".55" width="3.3" height="3.3" rx="1.4" fill="none" stroke="#1d75b3" stroke-width="1.05"/><rect x="12.35" y=".55" width="3.3" height="3.3" rx="1.4" fill="none" stroke="#1d75b3" stroke-width="1.05"/></svg></span><span class="abs" style="left:37.8px;top:4.3px"><svg class="ic" width="16.4" height="16.4" viewBox="0 0 16.4 16.4"><circle cx="8.2" cy="8.2" r="7.55" fill="none" stroke="#1d75b3" stroke-width="1.05"/><circle cx="8" cy="4.9" r=".8" fill="#1d75b3"/><path d="M7.2 7H8.4V11C8.4 11.6 8.8 11.8 9.4 11.6" fill="none" stroke="#1d75b3" stroke-width="1.05" stroke-linecap="round"/></svg></span></td><td><span style="letter-spacing:-0.602px;">001</span></td><td><span style="letter-spacing:-0.136px;">Dodavatel - školení 2</span></td><td><span style="letter-spacing:-0.021px;">12345678</span></td><td><span style="letter-spacing:-0.016px;">12. 6. 2025 11:04</span></td><td><span style="letter-spacing:-0.059px;">Odšifrována</span></td><td class="c"><span class="abs" style="left:61.9px;top:6.6px"><svg class="ic xm" width="9" height="9" viewBox="0 0 9 9"><path d="M1 1L8 8M8 1L1 8" stroke="#d2232a" stroke-width="2.2" stroke-linecap="butt"/></svg></span></td><td class="c"><span class="abs" style="left:85.4px;top:6.6px"><svg class="ic xm" width="9" height="9" viewBox="0 0 9 9"><path d="M1 1L8 8M8 1L1 8" stroke="#d2232a" stroke-width="2.2" stroke-linecap="butt"/></svg></span></td></tr><tr><td class="a"><span class="abs" style="left:11.8px;top:10.4px"><svg class="ic" width="16.2" height="4.4" viewBox="0 0 16.2 4.4"><rect x="0.5500000000000003" y=".55" width="3.3" height="3.3" rx="1.4" fill="none" stroke="#1d75b3" stroke-width="1.05"/><rect x="6.449999999999999" y=".55" width="3.3" height="3.3" rx="1.4" fill="none" stroke="#1d75b3" stroke-width="1.05"/><rect x="12.35" y=".55" width="3.3" height="3.3" rx="1.4" fill="none" stroke="#1d75b3" stroke-width="1.05"/></svg></span><span class="abs" style="left:37.8px;top:4.3px"><svg class="ic" width="16.4" height="16.4" viewBox="0 0 16.4 16.4"><circle cx="8.2" cy="8.2" r="7.55" fill="none" stroke="#1d75b3" stroke-width="1.05"/><circle cx="8" cy="4.9" r=".8" fill="#1d75b3"/><path d="M7.2 7H8.4V11C8.4 11.6 8.8 11.8 9.4 11.6" fill="none" stroke="#1d75b3" stroke-width="1.05" stroke-linecap="round"/></svg></span></td><td><span style="letter-spacing:-0.602px;">002</span></td><td><span style="letter-spacing:-0.136px;">Dodavatel - školení 3</span></td><td><span style="letter-spacing:-0.021px;">12345678</span></td><td><span style="letter-spacing:-0.016px;">12. 6. 2025 11:05</span></td><td><span style="letter-spacing:-0.059px;">Odšifrována</span></td><td class="c"><span class="abs" style="left:61.9px;top:6.6px"><svg class="ic xm" width="9" height="9" viewBox="0 0 9 9"><path d="M1 1L8 8M8 1L1 8" stroke="#d2232a" stroke-width="2.2" stroke-linecap="butt"/></svg></span></td><td class="c"><span class="abs" style="left:85.4px;top:6.6px"><svg class="ic xm" width="9" height="9" viewBox="0 0 9 9"><path d="M1 1L8 8M8 1L1 8" stroke="#d2232a" stroke-width="2.2" stroke-linecap="butt"/></svg></span></td></tr><tr><td class="a"><span class="abs" style="left:11.8px;top:10.4px"><svg class="ic" width="16.2" height="4.4" viewBox="0 0 16.2 4.4"><rect x="0.5500000000000003" y=".55" width="3.3" height="3.3" rx="1.4" fill="none" stroke="#1d75b3" stroke-width="1.05"/><rect x="6.449999999999999" y=".55" width="3.3" height="3.3" rx="1.4" fill="none" stroke="#1d75b3" stroke-width="1.05"/><rect x="12.35" y=".55" width="3.3" height="3.3" rx="1.4" fill="none" stroke="#1d75b3" stroke-width="1.05"/></svg></span><span class="abs" style="left:37.8px;top:4.3px"><svg class="ic" width="16.4" height="16.4" viewBox="0 0 16.4 16.4"><circle cx="8.2" cy="8.2" r="7.55" fill="none" stroke="#1d75b3" stroke-width="1.05"/><circle cx="8" cy="4.9" r=".8" fill="#1d75b3"/><path d="M7.2 7H8.4V11C8.4 11.6 8.8 11.8 9.4 11.6" fill="none" stroke="#1d75b3" stroke-width="1.05" stroke-linecap="round"/></svg></span></td><td><span style="letter-spacing:-0.602px;">003</span></td><td><span style="letter-spacing:-0.136px;">Dodavatel - školení 5</span></td><td><span style="letter-spacing:-0.021px;">12345678</span></td><td><span style="letter-spacing:-0.016px;">12. 6. 2025 11:06</span></td><td><span style="letter-spacing:-0.059px;">Odšifrována</span></td><td class="c"><span class="abs" style="left:61.9px;top:6.6px"><svg class="ic xm" width="9" height="9" viewBox="0 0 9 9"><path d="M1 1L8 8M8 1L1 8" stroke="#d2232a" stroke-width="2.2" stroke-linecap="butt"/></svg></span></td><td class="c"><span class="abs" style="left:85.4px;top:6.6px"><svg class="ic xm" width="9" height="9" viewBox="0 0 9 9"><path d="M1 1L8 8M8 1L1 8" stroke="#d2232a" stroke-width="2.2" stroke-linecap="butt"/></svg></span></td></tr><tr><td class="a"><span class="abs" style="left:11.8px;top:10.4px"><svg class="ic" width="16.2" height="4.4" viewBox="0 0 16.2 4.4"><rect x="0.5500000000000003" y=".55" width="3.3" height="3.3" rx="1.4" fill="none" stroke="#1d75b3" stroke-width="1.05"/><rect x="6.449999999999999" y=".55" width="3.3" height="3.3" rx="1.4" fill="none" stroke="#1d75b3" stroke-width="1.05"/><rect x="12.35" y=".55" width="3.3" height="3.3" rx="1.4" fill="none" stroke="#1d75b3" stroke-width="1.05"/></svg></span><span class="abs" style="left:37.8px;top:4.3px"><svg class="ic" width="16.4" height="16.4" viewBox="0 0 16.4 16.4"><circle cx="8.2" cy="8.2" r="7.55" fill="none" stroke="#1d75b3" stroke-width="1.05"/><circle cx="8" cy="4.9" r=".8" fill="#1d75b3"/><path d="M7.2 7H8.4V11C8.4 11.6 8.8 11.8 9.4 11.6" fill="none" stroke="#1d75b3" stroke-width="1.05" stroke-linecap="round"/></svg></span></td><td><span style="letter-spacing:-0.602px;">004</span></td><td><span style="letter-spacing:-0.136px;">Dodavatel - školení 6</span></td><td><span style="letter-spacing:-0.021px;">45359326</span></td><td><span style="letter-spacing:-0.016px;">12. 6. 2025 11:09</span></td><td><span style="letter-spacing:-0.059px;">Odšifrována</span></td><td class="c"><span class="abs" style="left:61.9px;top:6.6px"><svg class="ic xm" width="9" height="9" viewBox="0 0 9 9"><path d="M1 1L8 8M8 1L1 8" stroke="#d2232a" stroke-width="2.2" stroke-linecap="butt"/></svg></span></td><td class="c"><span class="abs" style="left:85.4px;top:6.6px"><svg class="ic xm" width="9" height="9" viewBox="0 0 9 9"><path d="M1 1L8 8M8 1L1 8" stroke="#d2232a" stroke-width="2.2" stroke-linecap="butt"/></svg></span></td></tr><tr><td class="a"><span class="abs" style="left:11.8px;top:10.4px"><svg class="ic" width="16.2" height="4.4" viewBox="0 0 16.2 4.4"><rect x="0.5500000000000003" y=".55" width="3.3" height="3.3" rx="1.4" fill="none" stroke="#1d75b3" stroke-width="1.05"/><rect x="6.449999999999999" y=".55" width="3.3" height="3.3" rx="1.4" fill="none" stroke="#1d75b3" stroke-width="1.05"/><rect x="12.35" y=".55" width="3.3" height="3.3" rx="1.4" fill="none" stroke="#1d75b3" stroke-width="1.05"/></svg></span><span class="abs" style="left:37.8px;top:4.3px"><svg class="ic" width="16.4" height="16.4" viewBox="0 0 16.4 16.4"><circle cx="8.2" cy="8.2" r="7.55" fill="none" stroke="#1d75b3" stroke-width="1.05"/><circle cx="8" cy="4.9" r=".8" fill="#1d75b3"/><path d="M7.2 7H8.4V11C8.4 11.6 8.8 11.8 9.4 11.6" fill="none" stroke="#1d75b3" stroke-width="1.05" stroke-linecap="round"/></svg></span></td><td><span style="letter-spacing:-0.602px;">005</span></td><td><span style="letter-spacing:-0.136px;">Dodavatel - školení 8</span></td><td><span style="letter-spacing:-0.021px;">12345678</span></td><td><span style="letter-spacing:-0.016px;">12. 6. 2025 11:10</span></td><td><span style="letter-spacing:-0.086px;">Podána po lhůtě</span></td><td class="c"><span class="abs" style="left:61.1px;top:6.3px"><svg class="ic ck" width="11" height="9" viewBox="0 0 11 9"><path d="M.8 5.2L3.8 8L10.2 .9" fill="none" stroke="#35b035" stroke-width="1.9"/></svg></span></td><td class="c"><span class="abs" style="left:85.4px;top:6.6px"><svg class="ic xm" width="9" height="9" viewBox="0 0 9 9"><path d="M1 1L8 8M8 1L1 8" stroke="#d2232a" stroke-width="2.2" stroke-linecap="butt"/></svg></span></td></tr><tr><td class="a"><span class="abs" style="left:11.8px;top:10.4px"><svg class="ic" width="16.2" height="4.4" viewBox="0 0 16.2 4.4"><rect x="0.5500000000000003" y=".55" width="3.3" height="3.3" rx="1.4" fill="none" stroke="#1d75b3" stroke-width="1.05"/><rect x="6.449999999999999" y=".55" width="3.3" height="3.3" rx="1.4" fill="none" stroke="#1d75b3" stroke-width="1.05"/><rect x="12.35" y=".55" width="3.3" height="3.3" rx="1.4" fill="none" stroke="#1d75b3" stroke-width="1.05"/></svg></span><span class="abs" style="left:37.8px;top:4.3px"><svg class="ic" width="16.4" height="16.4" viewBox="0 0 16.4 16.4"><circle cx="8.2" cy="8.2" r="7.55" fill="none" stroke="#1d75b3" stroke-width="1.05"/><circle cx="8" cy="4.9" r=".8" fill="#1d75b3"/><path d="M7.2 7H8.4V11C8.4 11.6 8.8 11.8 9.4 11.6" fill="none" stroke="#1d75b3" stroke-width="1.05" stroke-linecap="round"/></svg></span></td><td><span style="letter-spacing:-0.602px;">006</span></td><td><span style="letter-spacing:-0.136px;">Dodavatel - školení 6</span></td><td><span style="letter-spacing:-0.021px;">45359326</span></td><td><span style="letter-spacing:-0.016px;">12. 6. 2025 11:09</span></td><td><span style="letter-spacing:-0.215px;">Otevírání zahájeno</span></td><td class="c"><span class="abs" style="left:61.9px;top:6.6px"><svg class="ic xm" width="9" height="9" viewBox="0 0 9 9"><path d="M1 1L8 8M8 1L1 8" stroke="#d2232a" stroke-width="2.2" stroke-linecap="butt"/></svg></span></td><td class="c"><span class="abs" style="left:84.6px;top:6.3px"><svg class="ic ck" width="11" height="9" viewBox="0 0 11 9"><path d="M.8 5.2L3.8 8L10.2 .9" fill="none" stroke="#35b035" stroke-width="1.9"/></svg></span></td></tr></tbody></table></div><div class="abs" style="left:216px;top:249px;width:186px;height:40px;border:1px solid #ea1c24;pointer-events:none"></div><div class="abs" style="left:15px;top:248px;width:1228px;height:229px;border:1px solid #1d75b3;border-radius:9px;pointer-events:none"></div></section></body></html>
